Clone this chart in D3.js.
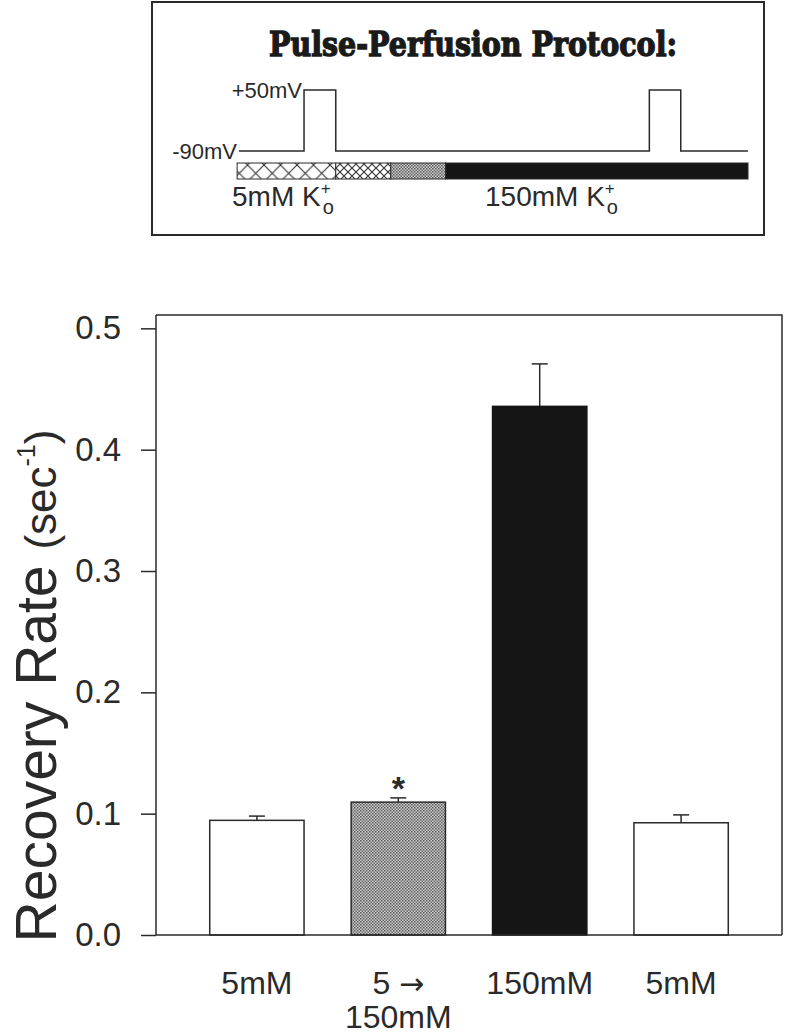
<!DOCTYPE html>
<html>
<head>
<meta charset="utf-8">
<script src="https://cdnjs.cloudflare.com/ajax/libs/d3/7.8.5/d3.min.js"></script>
<style>
  body { margin: 0; background: #fff; }
  svg { display: block; }
</style>
</head>
<body>
<div id="chart"></div>
<script>
// bar chart data
const categories = ["5mM", "5 → 150mM", "150mM", "5mM"];
const labelLines = [["5mM"], ["5 →", "150mM"], ["150mM"], ["5mM"]];
const rates = [0.0945, 0.1095, 0.4357, 0.0925];
const errors = [0.0035, 0.0035, 0.035, 0.0065];
const fills = ["white", "dots", "black", "white"];
const significant = [false, true, false, false];
const yTicks = [0.0, 0.1, 0.2, 0.3, 0.4, 0.5];

// protocol inset (time in arbitrary units, voltage in mV)
const traceTime = [0, 20.7, 20.7, 30.8, 30.8, 130.6, 130.6, 140.6, 140.6, 162];
const traceVolt = [-90, -90, 50, 50, -90, -90, 50, 50, -90, -90];
const perfusionEdges = [-0.6, 30.8, 48.3, 65.8, 162];
const perfusionFills = ["coarse", "fine", "dots", "black"];

const W = 787, H = 1035;
const ink = "#2a2a2a";
const sans = "Liberation Sans, Arial, sans-serif";

const svg = d3.select("#chart").append("svg")
    .attr("width", W)
    .attr("height", H);

// patterns
const defs = svg.append("defs");
function hatch(id, size, sw) {
    const p = defs.append("pattern")
        .attr("id", id)
        .attr("patternUnits", "userSpaceOnUse")
        .attr("width", size).attr("height", size);
    p.append("rect").attr("width", size).attr("height", size).attr("fill", "white");
    p.append("path")
        .attr("d", "M0,0L" + size + "," + size + "M" + size + ",0L0," + size)
        .attr("stroke", "#333").attr("stroke-width", sw);
}
hatch("coarse", 16.5, 1.1);
hatch("fine", 8, 1.1);
const dp = defs.append("pattern")
    .attr("id", "dots")
    .attr("patternUnits", "userSpaceOnUse")
    .attr("width", 3).attr("height", 3);
dp.append("rect").attr("width", 3).attr("height", 3).attr("fill", "#d0d0d0");
dp.append("rect").attr("width", 1.5).attr("height", 1.5).attr("fill", "#555");
dp.append("rect").attr("x", 1.5).attr("y", 1.5).attr("width", 1.5).attr("height", 1.5).attr("fill", "#666");

function fillOf(f) {
    if (f === "white") return "white";
    if (f === "black") return "#151515";
    return "url(#" + f + ")";
}

// ---------- protocol inset ----------
const inset = svg.append("g");
inset.append("rect")
    .attr("x", 152).attr("y", 2)
    .attr("width", 612).attr("height", 233)
    .attr("fill", "none")
    .attr("stroke", ink)
    .attr("stroke-width", 2);

inset.append("text")
    .attr("x", 473).attr("y", 56)
    .attr("text-anchor", "middle")
    .attr("font-family", "DejaVu Serif")
    .attr("font-weight", 900)
    .attr("font-size", 33)
    .attr("textLength", 408)
    .attr("lengthAdjust", "spacingAndGlyphs")
    .attr("fill", "#1a1a1a")
    .attr("stroke", "#1a1a1a")
    .attr("stroke-width", 1.4)
    .text("Pulse-Perfusion Protocol:");

const tx = d3.scaleLinear().domain([0, 162]).range([239, 748]);
const vy = d3.scaleLinear().domain([-90, 50]).range([151, 90]);

const trace = traceTime.map((t, i) => ({t: t, v: traceVolt[i]}));
inset.append("path")
    .datum(trace)
    .attr("fill", "none")
    .attr("stroke", ink)
    .attr("stroke-width", 1.5)
    .attr("d", d3.line().x(d => tx(d.t)).y(d => vy(d.v)));

inset.append("text")
    .attr("x", tx(0) - 2).attr("y", vy(-90) + 8)
    .attr("text-anchor", "end")
    .attr("font-family", sans)
    .attr("font-size", 22).attr("fill", ink)
    .text("-90mV");
inset.append("text")
    .attr("x", tx(20.7) - 2).attr("y", vy(50) + 8)
    .attr("text-anchor", "end")
    .attr("font-family", sans)
    .attr("font-size", 22).attr("fill", ink)
    .text("+50mV");

const segs = perfusionFills.map((f, i) => ({x0: perfusionEdges[i], x1: perfusionEdges[i + 1], f: f}));
inset.selectAll("rect.seg")
    .data(segs)
    .join("rect")
    .attr("class", "seg")
    .attr("x", d => tx(d.x0))
    .attr("y", 163)
    .attr("width", d => tx(d.x1) - tx(d.x0))
    .attr("height", 16)
    .attr("fill", d => fillOf(d.f))
    .attr("stroke", ink)
    .attr("stroke-width", 1);

function kLabel(x, conc) {
    const t = inset.append("text")
        .attr("x", x).attr("y", 206)
        .attr("font-family", sans)
        .attr("font-size", 28).attr("fill", ink);
    t.append("tspan").text(conc + " K");
    t.append("tspan").attr("dy", -12).attr("font-size", 17).text("+");
    t.append("tspan").attr("dy", 20).attr("dx", -8).attr("font-size", 20).text("o");
}
kLabel(232, "5mM");
kLabel(485, "150mM");

// ---------- bar chart ----------
const plot = {left: 156, right: 782, top: 315, bottom: 935};

const x = d3.scaleBand()
    .domain(d3.range(categories.length))
    .range([plot.left, plot.right])
    .paddingInner(0.333)
    .paddingOuter(0.38);

const y = d3.scaleLinear()
    .domain([0, 0.511])
    .range([plot.bottom, plot.top]);

const g = svg.append("g");

// frame (top and right sides)
g.append("path")
    .attr("d", "M" + plot.left + "," + plot.top + "H" + plot.right + "V" + plot.bottom)
    .attr("fill", "none")
    .attr("stroke", ink)
    .attr("stroke-width", 1.5);

const bars = categories.map((c, i) => ({i: i, v: rates[i], e: errors[i], f: fills[i], s: significant[i]}));

// error bars (upper only)
g.selectAll("line.err")
    .data(bars)
    .join("line")
    .attr("class", "err")
    .attr("x1", d => x(d.i) + x.bandwidth() / 2)
    .attr("x2", d => x(d.i) + x.bandwidth() / 2)
    .attr("y1", d => y(d.v))
    .attr("y2", d => y(d.v + d.e))
    .attr("stroke", ink).attr("stroke-width", 1.5);
g.selectAll("line.cap")
    .data(bars)
    .join("line")
    .attr("class", "cap")
    .attr("x1", d => x(d.i) + x.bandwidth() / 2 - 8)
    .attr("x2", d => x(d.i) + x.bandwidth() / 2 + 8)
    .attr("y1", d => y(d.v + d.e))
    .attr("y2", d => y(d.v + d.e))
    .attr("stroke", ink).attr("stroke-width", 1.5);

g.selectAll("rect.bar")
    .data(bars)
    .join("rect")
    .attr("class", "bar")
    .attr("x", d => x(d.i))
    .attr("y", d => y(d.v))
    .attr("width", x.bandwidth())
    .attr("height", d => y(0) - y(d.v))
    .attr("fill", d => fillOf(d.f))
    .attr("stroke", d => d.f === "black" ? "#151515" : ink)
    .attr("stroke-width", 1.5);

// significance star
g.selectAll("text.star")
    .data(bars.filter(d => d.s))
    .join("text")
    .attr("class", "star")
    .attr("x", d => x(d.i) + x.bandwidth() / 2)
    .attr("y", d => y(d.v + d.e) + 2)
    .attr("text-anchor", "middle")
    .attr("font-family", sans)
    .attr("font-weight", "bold")
    .attr("font-size", 34)
    .attr("fill", ink)
    .text("*");

// axes
const yAxis = g.append("g")
    .attr("transform", "translate(" + plot.left + ",0)")
    .call(d3.axisLeft(y).tickValues(yTicks).tickFormat(d3.format(".1f")).tickSize(15).tickPadding(20));
yAxis.select(".domain").remove();
g.append("line")
    .attr("x1", plot.left).attr("x2", plot.left)
    .attr("y1", plot.top).attr("y2", plot.bottom)
    .attr("stroke", ink).attr("stroke-width", 1.5);
yAxis.selectAll(".tick line").attr("stroke", ink).attr("stroke-width", 1.5);
yAxis.selectAll(".tick text")
    .attr("font-family", sans)
    .attr("font-size", 33)
    .attr("fill", ink);

g.append("line")
    .attr("x1", plot.left).attr("x2", plot.right)
    .attr("y1", plot.bottom).attr("y2", plot.bottom)
    .attr("stroke", ink).attr("stroke-width", 1.5);

// category labels
const xl = g.selectAll("text.cat")
    .data(bars)
    .join("text")
    .attr("class", "cat")
    .attr("text-anchor", "middle")
    .attr("font-family", sans)
    .attr("font-size", 32)
    .attr("fill", ink);
xl.each(function (d) {
    const t = d3.select(this);
    labelLines[d.i].forEach((line, k) => {
        const ts = t.append("tspan")
            .attr("x", x(d.i) + x.bandwidth() / 2)
            .attr("y", 994 + k * 34);
        if (line.includes("→")) {
            ts.text(line.replace(" →", " "));
            ts.append("tspan").attr("font-family", "DejaVu Sans").attr("font-size", 30).text("→");
        } else {
            ts.text(line);
        }
    });
});

// y label
const yl = g.append("text")
    .attr("transform", "translate(56," + 686 + ")rotate(-90)")
    .attr("text-anchor", "middle")
    .attr("font-family", sans)
    .attr("fill", ink);
yl.append("tspan").attr("font-size", 57).text("Recovery Rate ");
yl.append("tspan").attr("font-size", 44).text("(sec");
yl.append("tspan").attr("font-size", 25).attr("dy", -21).text("-1");
yl.append("tspan").attr("font-size", 44).attr("dy", 21).text(")");
</script>
</body>
</html>
